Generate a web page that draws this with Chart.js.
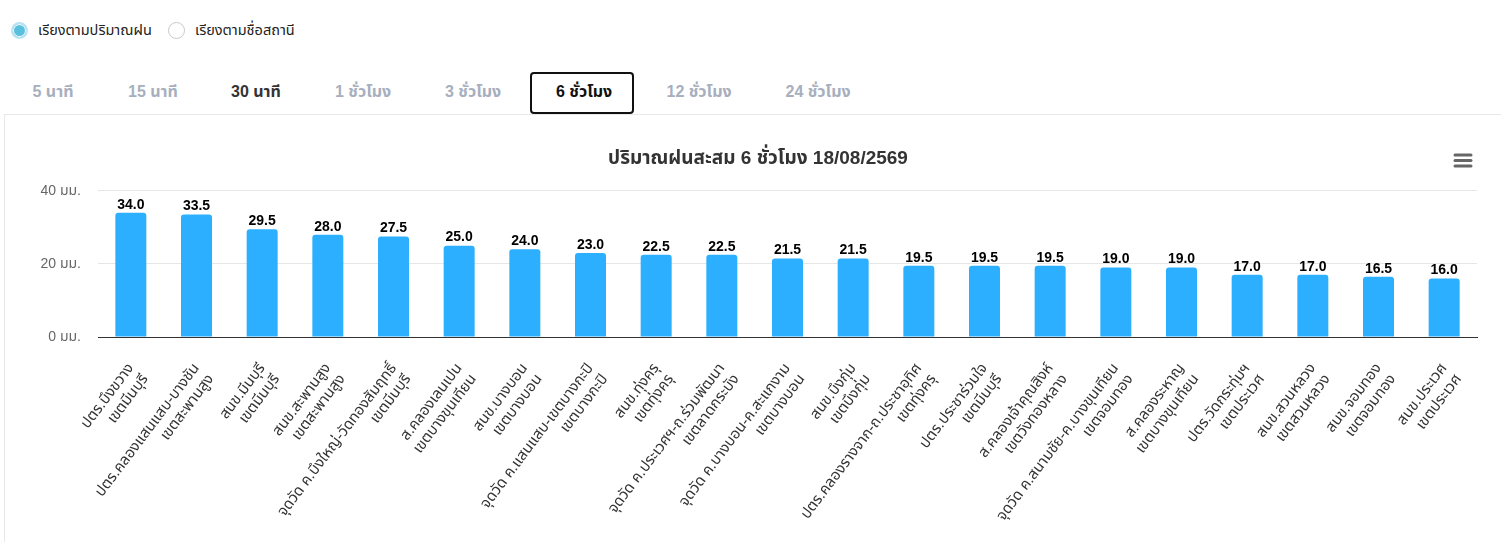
<!DOCTYPE html>
<html lang="th">
<head>
<meta charset="utf-8">
<script src="https://cdn.jsdelivr.net/npm/chart.js@4.4.1/dist/chart.umd.min.js"></script>
<style>
  html, body { margin:0; padding:0; background:#fff; width:1501px; height:542px; overflow:hidden;
    font-family: "Liberation Sans", "Noto Sans Thai", "Noto Sans", sans-serif; }
  .radio { position:absolute; top:22px; width:17px; height:17px; border-radius:50%; box-sizing:border-box; }
  .r1 { left:11px; border:2px solid #b8e3f3; background:#5bc0de; box-shadow: inset 0 0 0 1px #fff; }
  .r2 { left:168px; border:1px solid #c8c8c8; background:#fff; }
  .rtext { position:absolute; top:21px; font-size:14.5px; color:#222; line-height:18px; }
  .tab { position:absolute; top:82px; font-size:16px; font-weight:bold; color:#a7afbe; line-height:20px; white-space:nowrap; }
  .tab.dark { color:#333; }
  .tab.active { color:#111; }
  .tabbox { position:absolute; left:530px; top:72px; width:100px; height:38px; border:2px solid #111; border-radius:4px; }
  .cardtop { position:absolute; left:4px; top:114px; width:1497px; height:1px; background:#e8e8e8; }
  .cardleft { position:absolute; left:4px; top:114px; width:1px; height:428px; background:#e8e8e8; }
  #wrap { position:absolute; left:5px; top:115px; width:1496px; height:427px; }
  .menu { position:absolute; left:1453px; top:153px; width:20px; height:15px; }
</style>
</head>
<body>
<div class="radio r1"></div><div class="rtext" style="left:38px">เรียงตามปริมาณฝน</div>
<div class="radio r2"></div><div class="rtext" style="left:195px">เรียงตามชื่อสถานี</div>
<div class="tabbox"></div>
<div id="tabs"></div>
<div class="cardtop"></div><div class="cardleft"></div>
<div id="wrap"><canvas id="c"></canvas></div>
<svg class="menu" viewBox="0 0 20 15"><g stroke="#666" stroke-width="3" stroke-linecap="round"><line x1="2" y1="2" x2="18" y2="2"/><line x1="2" y1="7.5" x2="18" y2="7.5"/><line x1="2" y1="13" x2="18" y2="13"/></g></svg>
<script>
const tabLabels = ["5 นาที","15 นาที","30 นาที","1 ชั่วโมง","3 ชั่วโมง","6 ชั่วโมง","12 ชั่วโมง","24 ชั่วโมง"];
const stations = ["ปตร.บึงขวาง","ปตร.คลองแสนแสบ-บางชัน","สนข.มีนบุรี","สนข.สะพานสูง","จุดวัด ค.บึงใหญ่-วัดทองสัมฤทธิ์","ส.คลองเลนเปน","สนข.บางบอน","จุดวัด ค.แสนแสบ-เขตบางกะปิ","สนข.ทุ่งครุ","จุดวัด ค.ประเวศฯ-ถ.ร่วมพัฒนา","จุดวัด ค.บางบอน-ค.สะแกงาม","สนข.บึงกุ่ม","ปตร.คลองรางจาก-ถ.ประชาอุทิศ","ปตร.ประชาร่วมใจ","ส.คลองเจ้าคุณสิงห์","จุดวัด ค.สนามชัย-ค.บางขุนเทียน","ส.คลองระหาญ","ปตร.วัดกระทุ่มฯ","สนข.สวนหลวง","สนข.จอมทอง","สนข.ประเวศ"];
const districts = ["เขตมีนบุรี","เขตสะพานสูง","เขตมีนบุรี","เขตสะพานสูง","เขตมีนบุรี","เขตบางขุนเทียน","เขตบางบอน","เขตบางกะปิ","เขตทุ่งครุ","เขตลาดกระบัง","เขตบางบอน","เขตบึงกุ่ม","เขตทุ่งครุ","เขตมีนบุรี","เขตวังทองหลาง","เขตจอมทอง","เขตบางขุนเทียน","เขตประเวศ","เขตสวนหลวง","เขตจอมทอง","เขตประเวศ"];
const rainfall = [34.0,33.5,29.5,28.0,27.5,25.0,24.0,23.0,22.5,22.5,21.5,21.5,19.5,19.5,19.5,19.0,19.0,17.0,17.0,16.5,16.0];
const yTicks = [0,20,40];
const unit = " มม.";
const chartTitle = "ปริมาณฝนสะสม 6 ชั่วโมง 18/08/2569";

// tabs
const tabCenters = [53,153,256,363,473,584,699,818];
const tabsEl = document.getElementById('tabs');
tabLabels.forEach((t,i)=>{
  const s = document.createElement('span');
  s.className = 'tab' + (i===2?' dark':'') + (i===5?' active':'');
  s.textContent = t;
  tabsEl.appendChild(s);
  s.style.left = (tabCenters[i] - s.offsetWidth/2) + 'px';
});

const FONT = '"Liberation Sans", "Noto Sans Thai", "Noto Sans", sans-serif';
const valueLabels = {
  id:'valueLabels',
  afterDatasetsDraw(chart){
    const ctx = chart.ctx;
    const meta = chart.getDatasetMeta(0);
    ctx.save();
    ctx.font = 'bold 14px ' + FONT;
    ctx.fillStyle = '#000';
    ctx.textAlign = 'center';
    ctx.textBaseline = 'bottom';
    meta.data.forEach((bar,i)=>{
      ctx.fillText(rainfall[i].toFixed(1), bar.x, bar.y - 1);
    });
    ctx.restore();
  }
};

new Chart(document.getElementById('c'), {
  type:'bar',
  data:{
    labels: stations.map((s,i)=>[s, districts[i]]),
    datasets:[{
      data: rainfall,
      backgroundColor:'#2caffe',
      borderRadius:{topLeft:3, topRight:3},
      borderSkipped:'bottom',
      categoryPercentage:0.8,
      barPercentage:0.59
    }]
  },
  options:{
    responsive:true,
    maintainAspectRatio:false,
    animation:false,
    layout:{ padding:{ top:32, right:0, left:10, bottom:0 } },
    plugins:{
      legend:{ display:false },
      tooltip:{ enabled:false },
      title:{ display:true, text: chartTitle, color:'#333',
        font:{ family: FONT, size:19, weight:'bold' }, padding:{ top:0, bottom:21 } }
    },
    scales:{
      x:{
        grid:{ display:false, drawTicks:false },
        border:{ display:true, color:'#333', width:1 },
        ticks:{ color:'#333', font:{ family: FONT, size:15 }, minRotation:53, maxRotation:53, autoSkip:false, padding:23 },
        afterFit(scale){ scale.height = 205; }
      },
      y:{
        min:0, max:40,
        afterBuildTicks(scale){ scale.ticks = yTicks.map(v=>({value:v})); },
        grid:{ color:'#e6e6e6', drawTicks:false },
        border:{ display:false },
        ticks:{ color:'#666', font:{ family: FONT, size:14 }, padding:17, callback:v=> v + unit },
        afterFit(scale){ scale.width = 83; }
      },
      yRight:{
        position:'right',
        min:0, max:40,
        grid:{ display:false, drawTicks:false },
        border:{ display:false },
        ticks:{ display:false },
        afterFit(scale){ scale.width = 24; }
      }
    }
  },
  plugins:[valueLabels]
});
</script>
</body>
</html>
